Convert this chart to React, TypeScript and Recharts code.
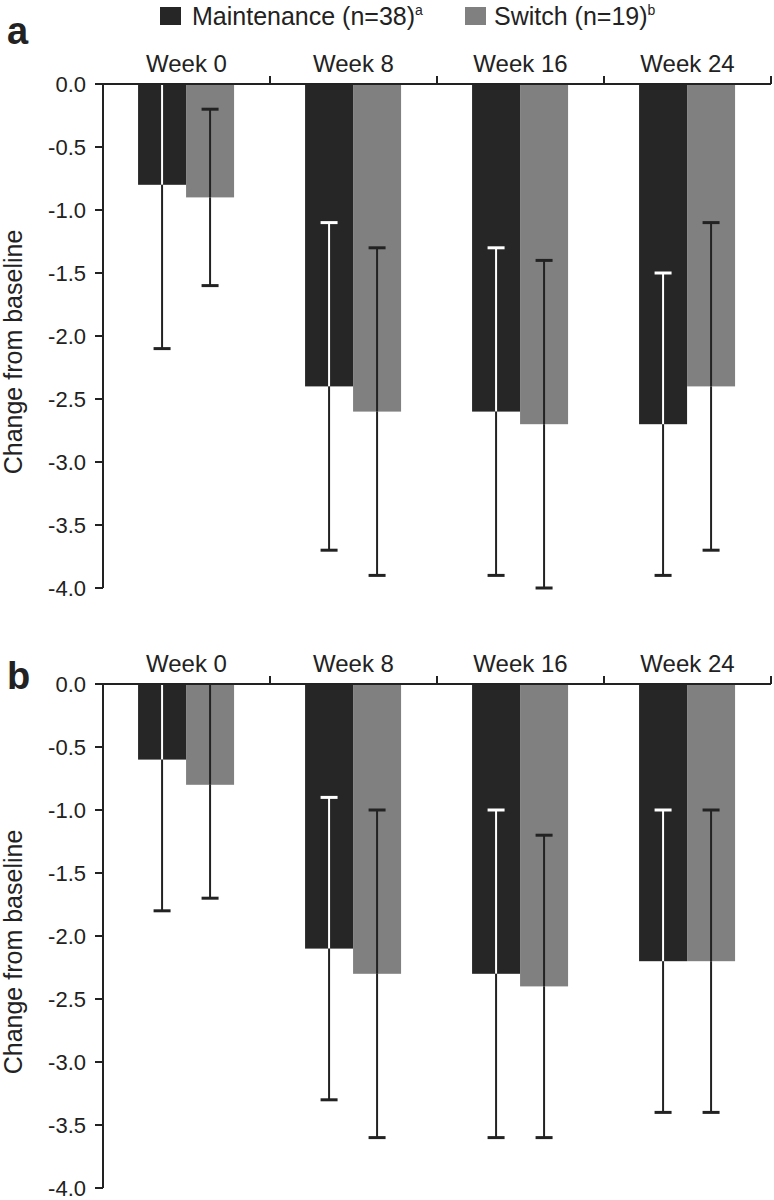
import { BarChart, Bar, XAxis, YAxis } from "recharts";

const weeks = ["Week 0", "Week 8", "Week 16", "Week 24"];

// panel a
const maintenanceA = [-0.8, -2.4, -2.6, -2.7];
const maintenanceSdA = [1.3, 1.3, 1.3, 1.2];
const switchA = [-0.9, -2.6, -2.7, -2.4];
const switchSdA = [0.7, 1.3, 1.3, 1.3];

// panel b
const maintenanceB = [-0.6, -2.1, -2.3, -2.2];
const maintenanceSdB = [1.2, 1.2, 1.3, 1.2];
const switchB = [-0.8, -2.3, -2.4, -2.2];
const switchSdB = [0.9, 1.3, 1.2, 1.2];

const yTicks = [0, -0.5, -1, -1.5, -2, -2.5, -3, -3.5, -4];

const DARK = "#262626";
const GRAY = "#808080";
const INK = "#222222";
const FONT = "'Liberation Sans', Arial, Helvetica, sans-serif";

const W = 774;
const H = 600;
const Y_AXIS_W = 103;
const MARGIN = { top: 54, right: 3, bottom: 12, left: 0 };
const X_AXIS_H = 30;
const TICK_GAP = 12;
const BAND = (W - Y_AXIS_W - MARGIN.right) / weeks.length;

function buildRows(m: number[], mSd: number[], s: number[], sSd: number[]) {
  return weeks.map((week, i) => ({
    week,
    maint: m[i],
    maintSd: mSd[i],
    sw: s[i],
    swSd: sSd[i],
  }));
}

function WeekTick(props: any) {
  const { x, y, payload } = props;
  const half = typeof payload?.offset === "number" && payload.offset > 0 ? payload.offset : BAND / 2;
  const axisY = y + TICK_GAP;
  return (
    <g>
      <text
        x={x}
        y={y}
        textAnchor="middle"
        fontSize={24}
        fontFamily={FONT}
        fill={INK}
      >
        {payload.value}
      </text>
      <line x1={x + half} x2={x + half} y1={axisY} y2={axisY - 8} stroke={INK} strokeWidth={2} />
    </g>
  );
}

function BarWithError(props: any) {
  const { x, y, width, height, fill, payload, meanKey, sdKey, innerColor } = props;
  const top = Math.min(y, y + height);
  const bottom = Math.max(y, y + height);
  const mean = payload[meanKey];
  const sd = payload[sdKey];
  const ppu = (bottom - top) / Math.abs(mean);
  const toY = (u: number) => top - u * ppu; // bars hang from zero
  const upperVal = mean + sd;
  const yUp = toY(Math.min(upperVal, 0));
  const yLo = toY(mean - sd);
  const cx = x + width / 2;
  const cap = 8.5;
  return (
    <g>
      <rect x={x} y={top} width={width} height={bottom - top} fill={fill} />
      <line x1={cx} x2={cx} y1={yUp} y2={bottom} stroke={innerColor} strokeWidth={2} />
      <line x1={cx} x2={cx} y1={bottom} y2={yLo} stroke={INK} strokeWidth={2} />
      {upperVal < 0 && (
        <line x1={cx - cap} x2={cx + cap} y1={yUp} y2={yUp} stroke={innerColor} strokeWidth={3} />
      )}
      <line x1={cx - cap} x2={cx + cap} y1={yLo} y2={yLo} stroke={INK} strokeWidth={3} />
    </g>
  );
}

function Panel({ rows }: { rows: any[] }) {
  return (
    <BarChart
      width={W}
      height={H}
      data={rows}
      margin={MARGIN}
      barCategoryGap="21%"
      barGap={0}
    >
      <XAxis
        dataKey="week"
        orientation="top"
        height={X_AXIS_H}
        axisLine={{ stroke: INK, strokeWidth: 2 }}
        tickLine={false}
        tickSize={0}
        tickMargin={TICK_GAP}
        interval={0}
        tick={<WeekTick />}
      />
      <YAxis
        type="number"
        domain={[-4, 0]}
        ticks={yTicks}
        interval={0}
        width={Y_AXIS_W}
        axisLine={{ stroke: INK, strokeWidth: 2 }}
        tickLine={{ stroke: INK, strokeWidth: 2 }}
        tickSize={8}
        tickMargin={9}
        tickFormatter={(v: number) => v.toFixed(1)}
        tick={{ fontSize: 22, fontFamily: FONT, fill: INK }}
        label={{
          value: "Change from baseline",
          angle: -90,
          position: "insideLeft",
          offset: 13,
          dy: 16,
          style: { textAnchor: "middle", fontSize: 25, fontFamily: FONT, fill: INK },
        }}
      />
      <Bar
        dataKey="maint"
        fill={DARK}
        isAnimationActive={false}
        shape={(p: any) => <BarWithError {...p} meanKey="maint" sdKey="maintSd" innerColor="#ffffff" />}
      />
      <Bar
        dataKey="sw"
        fill={GRAY}
        isAnimationActive={false}
        shape={(p: any) => <BarWithError {...p} meanKey="sw" sdKey="swSd" innerColor={INK} />}
      />
    </BarChart>
  );
}

export default function App() {
  const rowsA = buildRows(maintenanceA, maintenanceSdA, switchA, switchSdA);
  const rowsB = buildRows(maintenanceB, maintenanceSdB, switchB, switchSdB);
  return (
    <div style={{ position: "absolute", left: 0, top: 0, width: W, height: 1200, background: "#fff" }}>
      <div style={{ position: "absolute", left: 0, top: 0 }}>
        <Panel rows={rowsA} />
      </div>
      <div style={{ position: "absolute", left: 0, top: 600 }}>
        <Panel rows={rowsB} />
      </div>
      <svg
        width={W}
        height={1200}
        style={{ position: "absolute", left: 0, top: 0, pointerEvents: "none" }}
      >
        <g fontFamily={FONT} fill={INK}>
          <rect x={160} y={7} width={21} height={18} fill={DARK} />
          <text x={192} y={25} fontSize={25}>
            Maintenance (n=38)
            <tspan fontSize={14} dy={-10}>a</tspan>
          </text>
          <rect x={465} y={7} width={21} height={18} fill={GRAY} />
          <text x={494} y={25} fontSize={25}>
            Switch (n=19)
            <tspan fontSize={14} dy={-10}>b</tspan>
          </text>
          <text x={7} y={44} fontSize={38} fontWeight="bold">a</text>
          <text x={7} y={689} fontSize={38} fontWeight="bold">b</text>
        </g>
      </svg>
    </div>
  );
}
